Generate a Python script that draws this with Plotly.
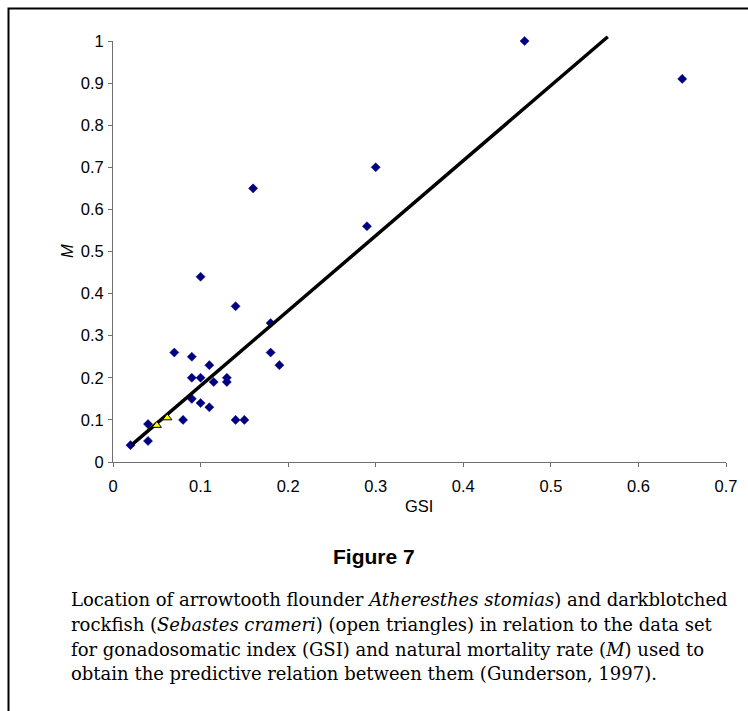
import plotly.graph_objects as go

# ---- data ----
gsi = [0.02, 0.04, 0.04, 0.10, 0.14, 0.18, 0.07, 0.09, 0.11, 0.09, 0.10, 0.115, 0.13, 0.13,
       0.18, 0.19, 0.09, 0.10, 0.11, 0.08, 0.14, 0.15, 0.16, 0.30, 0.29, 0.47, 0.65]
m_rate = [0.04, 0.09, 0.05, 0.44, 0.37, 0.33, 0.26, 0.25, 0.23, 0.20, 0.20, 0.19, 0.20, 0.19,
          0.26, 0.23, 0.15, 0.14, 0.13, 0.10, 0.10, 0.10, 0.65, 0.70, 0.56, 1.00, 0.91]

tri_gsi = [0.05, 0.062]
tri_m = [0.087, 0.105]

line_gsi = [0.022, 0.565]
line_m = [0.042, 1.01]

x_ticks = [0, 0.1, 0.2, 0.3, 0.4, 0.5, 0.6, 0.7]
x_labels = ["0", "0.1", "0.2", "0.3", "0.4", "0.5", "0.6", "0.7"]
y_ticks = [0, 0.1, 0.2, 0.3, 0.4, 0.5, 0.6, 0.7, 0.8, 0.9, 1]
y_labels = ["0", "0.1", "0.2", "0.3", "0.4", "0.5", "0.6", "0.7", "0.8", "0.9", "1"]

caption_lines = [
    "Location of arrowtooth flounder <i>Atheresthes stomias</i>) and darkblotched",
    "rockfish (<i>Sebastes crameri</i>) (open triangles) in relation to the data set",
    "for gonadosomatic index (GSI) and natural mortality rate (<i>M</i>) used to",
    "obtain the predictive relation between them (Gunderson, 1997).",
]

# ---- layout geometry (pixels) ----
W, H = 748, 711
ML, MR, MT, MB = 113, 22, 31, 249
PW = W - ML - MR
PH = H - MT - MB
main_top = 421 / PH  # plot-area fraction for y in [0, 1]


def px(x):
    return (x - ML) / PW


def py(y):
    return (H - MB - y) / PH


AX = "#6e6e6e"
axis_font = dict(family="Liberation Sans, Arial, sans-serif", size=16.5, color="black")

fig = go.Figure()

fig.add_trace(go.Scatter(
    x=gsi, y=m_rate, mode="markers", xaxis="x", yaxis="y", cliponaxis=False,
    marker=dict(symbol="diamond", size=7, color="#000080",
                line=dict(width=0.5, color="#000080")),
    showlegend=False, hoverinfo="x+y"))

fig.add_trace(go.Scatter(
    x=line_gsi, y=line_m, mode="lines", xaxis="x", yaxis="y2",
    line=dict(color="black", width=3.5), showlegend=False, hoverinfo="skip"))

fig.add_trace(go.Scatter(
    x=tri_gsi, y=tri_m, mode="markers", xaxis="x", yaxis="y2",
    marker=dict(symbol="triangle-up", size=8, color="#FFFF00",
                line=dict(width=1, color="black")),
    showlegend=False, hoverinfo="x+y"))

fig.update_layout(
    width=W, height=H,
    margin=dict(l=ML, r=MR, t=MT, b=MB, pad=0),
    paper_bgcolor="white", plot_bgcolor="rgba(0,0,0,0)",
    xaxis=dict(range=[0, 0.7], tickvals=x_ticks, ticktext=x_labels,
               showgrid=False, zeroline=False, showline=True,
               linecolor=AX, linewidth=1, ticks="outside", ticklen=4,
               tickcolor=AX, tickfont=axis_font, ticklabelstandoff=5,
               anchor="y", fixedrange=True),
    yaxis=dict(range=[0, 1], domain=[0, main_top], tickvals=y_ticks,
               ticktext=y_labels, showgrid=False, zeroline=False,
               showline=True, linecolor=AX, linewidth=1, ticks="outside",
               ticklen=4, tickcolor=AX, tickfont=axis_font,
               ticklabelstandoff=1, anchor="x", fixedrange=True),
    yaxis2=dict(range=[0, 1 / main_top], domain=[0, 1], visible=False,
                anchor="x", fixedrange=True),
)

annotations = [
    dict(text="GSI", x=px(419), y=py(506), xref="paper", yref="paper",
         showarrow=False, xanchor="center", yanchor="middle", font=axis_font),
    dict(text="<i>M</i>", x=px(67), y=py(251), xref="paper", yref="paper",
         showarrow=False, xanchor="center", yanchor="middle", textangle=-90,
         font=axis_font),
    dict(text="<b>Figure 7</b>", x=px(374), y=py(556), xref="paper", yref="paper",
         showarrow=False, xanchor="center", yanchor="middle",
         font=dict(family="Liberation Sans Narrow, Arial Narrow, Liberation Sans, sans-serif",
                   size=21, color="black")),
]
cap_y = [599, 624, 649, 673]
for txt, yy in zip(caption_lines, cap_y):
    annotations.append(dict(
        text=txt, x=px(69), y=py(yy), xref="paper", yref="paper",
        showarrow=False, xanchor="left", yanchor="middle",
        font=dict(family="DejaVu Serif, serif", size=18, color="black")))
fig.update_layout(annotations=annotations)

# outer frame (left and top edges visible, right/bottom run off the page)
fig.add_shape(type="rect", xref="paper", yref="paper",
              x0=px(8.5), y0=py(760), x1=px(800), y1=py(8.5),
              line=dict(color="black", width=2), fillcolor="rgba(0,0,0,0)",
              layer="below")

fig.write_html("out.html")
